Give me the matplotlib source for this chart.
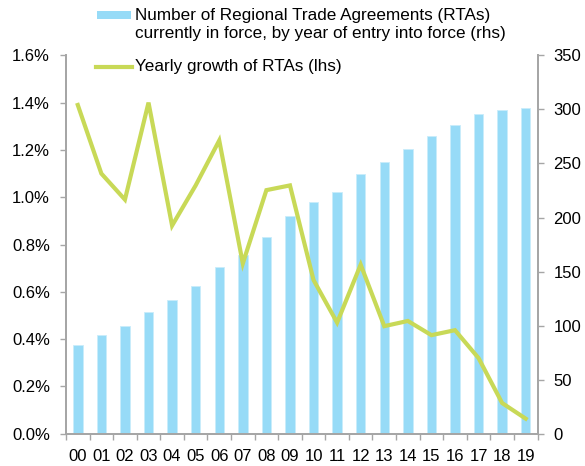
import matplotlib.pyplot as plt
from matplotlib.patches import Rectangle
from matplotlib.lines import Line2D
import numpy as np

# RTAs in force (rhs) and yearly growth (lhs)
years = ["00", "01", "02", "03", "04", "05", "06", "07", "08", "09",
         "10", "11", "12", "13", "14", "15", "16", "17", "18", "19"]
rtas_in_force = [82, 91, 100, 113, 124, 137, 154, 165, 182, 201,
                 214, 224, 240, 251, 263, 275, 286, 296, 299, 301]
yearly_growth = [1.39, 1.10, 0.99, 1.40, 0.88, 1.05, 1.24, 0.72, 1.03, 1.05,
                 0.65, 0.47, 0.715, 0.455, 0.477, 0.417, 0.438, 0.32, 0.13, 0.064]

bar_label = ["Number of Regional Trade Agreements (RTAs)",
             "currently in force, by year of entry into force (rhs)"]
line_label = "Yearly growth of RTAs (lhs)"

plt.rcParams["font.family"] = ["Liberation Sans", "DejaVu Sans"]
grey = "#a6a6a6"
bar_col = "#97dbf7"
line_col = "#c8d957"
W, H = 585, 466

fig = plt.figure(figsize=(5.85, 4.66), dpi=100)
ax = fig.add_axes([66 / W, 1 - 433.8 / H, (537.5 - 66) / W, (433.8 - 55.3) / H])
ax2 = ax.twinx()

x = np.arange(len(years))
# bars on the right axis, drawn behind the line
ax2.bar(x, rtas_in_force, width=0.4, color=bar_col, edgecolor="#c9ecfb", linewidth=0.6)
ax2.set_zorder(1)
ax.set_zorder(2)
ax.patch.set_visible(False)
ax.plot(x, yearly_growth, color=line_col, linewidth=3.0, solid_joinstyle="miter")

ax.set_xlim(-0.5, len(years) - 0.5)
ax.set_ylim(0, 1.6)
ax2.set_ylim(0, 350)
ax.set_yticks(np.arange(0, 1.61, 0.2))
ax.set_yticklabels([f"{v:.1f}%" for v in np.arange(0, 1.61, 0.2)])
ax2.set_yticks(range(0, 351, 50))

ax.set_xticks(x)
ax.set_xticklabels(years)
ax.set_xticks(np.arange(-0.5, len(years), 1), minor=True)
ax.tick_params(axis="x", which="major", length=0, pad=11)
ax.tick_params(axis="x", which="minor", length=4, color=grey, width=1)

for a in (ax, ax2):
    for s in a.spines.values():
        s.set_color(grey)
        s.set_linewidth(1.3)
    a.spines["top"].set_visible(False)
    a.tick_params(labelsize=12, colors="black")
    a.tick_params(axis="y", length=4, color=grey, width=1)
ax.tick_params(axis="y", pad=7.5)
ax2.tick_params(axis="y", pad=7.5)

# legend drawn in figure pixels (handle aligned with first line of the label)
fig.add_artist(Rectangle((97 / W, 1 - 19 / H), 34 / W, 8 / H,
                         transform=fig.transFigure, color=bar_col, lw=0))
fig.add_artist(Line2D([96 / W, 132 / W], [1 - 67 / H, 1 - 67 / H],
                      transform=fig.transFigure, color=line_col, lw=3.0))
fig.text(135 / W, 1 - 20 / H, bar_label[0], fontsize=12.3, va="baseline")
fig.text(135 / W, 1 - 38 / H, bar_label[1], fontsize=12.3, va="baseline")
fig.text(135 / W, 1 - 71.5 / H, line_label, fontsize=12.3, va="baseline")

fig.savefig("out.png", dpi=100)
